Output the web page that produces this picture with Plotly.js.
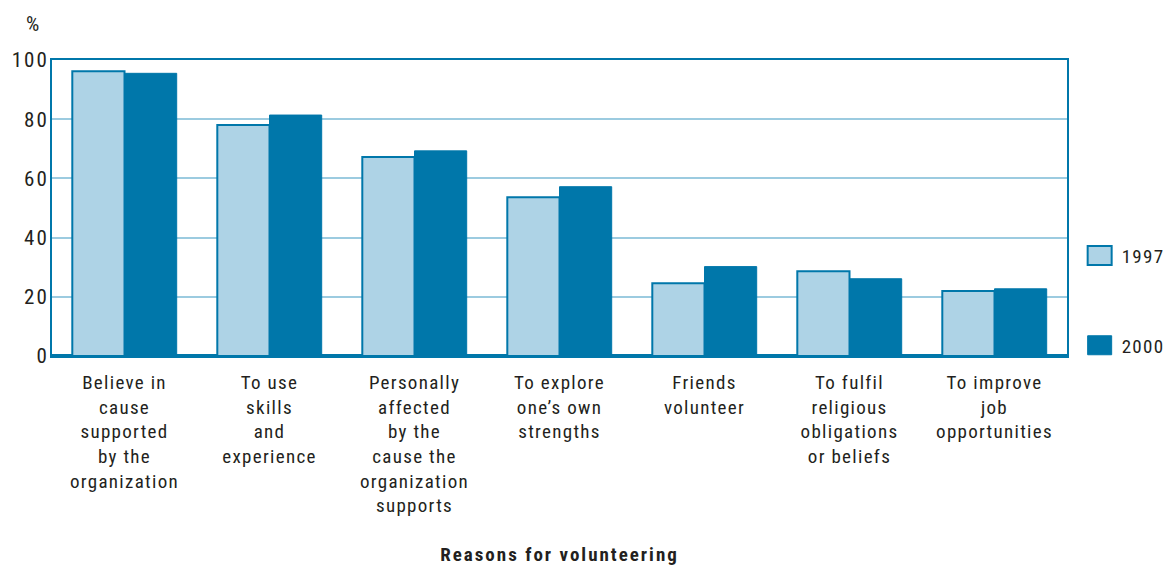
<!DOCTYPE html>
<html><head><meta charset="utf-8">
<script src="https://cdn.plot.ly/plotly-3.0.1.min.js"></script>
<style>body{margin:0}#c{width:1171px;height:566px}
.xtick text,.legendtext,.annotation-text{letter-spacing:1.3px}
.ytick text{letter-spacing:2px}
.xtitle{letter-spacing:2px}</style>
</head><body><div id="c"></div>
<script>
const categories = [
  "Believe in<br>cause<br>supported<br>by the<br>organization",
  "To use<br>skills<br>and<br>experience",
  "Personally<br>affected<br>by the<br>cause the<br>organization<br>supports",
  "To explore<br>one’s own<br>strengths",
  "Friends<br>volunteer",
  "To fulfil<br>religious<br>obligations<br>or beliefs",
  "To improve<br>job<br>opportunities"
];
const values1997 = [96.2, 78.0, 67.2, 53.6, 24.6, 28.6, 22.0];
const values2000 = [95.5, 81.4, 69.3, 57.2, 30.2, 26.1, 22.7];
const yTicks = [0, 20, 40, 60, 80, 100];

const font = "'Liberation Sans Narrow', 'Roboto Condensed', 'DejaVu Sans Condensed', 'Liberation Sans', sans-serif";
const dark = "#0077aa", light = "#aed3e6", txt = "#231f20";

const data = [
  {type: "bar", name: "1997", x: categories, y: values1997,
   marker: {color: light, line: {color: dark, width: 2}}, legendgroup: "a"},
  {type: "bar", name: "2000", x: categories, y: values2000,
   marker: {color: dark, line: {color: dark, width: 1}}, legendgroup: "b"}
];
const layout = {
  width: 1171, height: 566,
  margin: {l: 52, r: 104, t: 60, b: 210, autoexpand: false},
  paper_bgcolor: "#fff", plot_bgcolor: "#fff",
  font: {family: font, color: txt, size: 19},
  barmode: "group", bargap: 0.28, bargroupgap: 0,
  showlegend: true,
  legend: {x: 1.0105, xanchor: "left", y: 0.403, yanchor: "top",
    tracegroupgap: 62, font: {size: 19, color: txt, family: font},
    itemwidth: 34, bgcolor: "rgba(0,0,0,0)"},
  xaxis: {
    showline: true, mirror: true, linecolor: dark, linewidth: 2,
    ticks: "", ticklabelstandoff: 8, tickfont: {size: 19, color: txt},
    title: {text: "<b>Reasons for volunteering</b>", font: {size: 19, color: txt}, standoff: 37}
  },
  yaxis: {
    range: [0, 100], tickvals: yTicks, ticktext: yTicks.map(String),
    showline: true, mirror: true, linecolor: dark, linewidth: 2,
    showgrid: true, gridcolor: "#9ccbe0", gridwidth: 2,
    zeroline: true, zerolinecolor: dark, zerolinewidth: 4,
    ticks: "", ticklabelstandoff: -3, tickfont: {size: 21, color: txt}
  },
  annotations: [{text: "%", xref: "paper", yref: "paper", x: -0.0187, y: 1.12,
    xanchor: "center", yanchor: "middle", showarrow: false, font: {size: 21, color: txt}}]
};
Plotly.newPlot("c", data, layout, {displayModeBar: false}).then(function () {
  document.querySelectorAll(".legendpoints path").forEach(function (p) {
    p.setAttribute("d", "M12,9.5H-12V-9.5H12Z");
  });
});
</script></body></html>
